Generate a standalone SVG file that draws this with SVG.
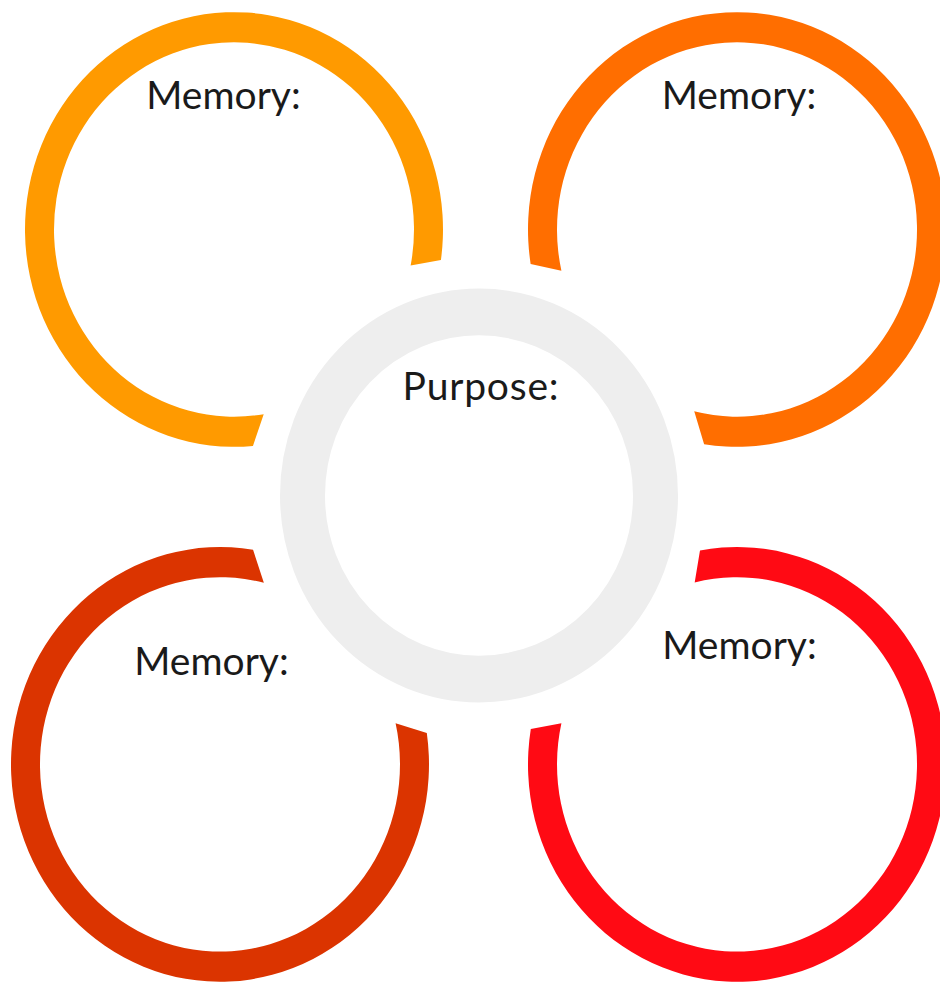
<svg xmlns="http://www.w3.org/2000/svg" width="940" height="982" viewBox="0 0 940 982">
<style>
.lbl{font-family:Lato,"Noto Sans","Liberation Sans",sans-serif;font-size:39px;fill:#1a1a1a;text-anchor:middle}
.hub{fill:none;stroke:#eeeeee;stroke-width:45}
</style>
<rect width="940" height="982" fill="#ffffff"/>
<g id="purpose">
<circle class="hub" cx="0" cy="0" r="176.5" transform="translate(479,495.5) scale(1,1.04)"/>
<text class="lbl" x="481" y="400" letter-spacing="0.8">Purpose:</text>
</g>
<g id="memory-top-left">
<path fill="#ff9a00" transform="translate(234,229.5) scale(1,1.04)" d="M206.93,29.30 A209,209 0 1 0 18.94,208.14 L29.70,177.54 A180,180 0 1 1 176.63,34.65 Z"/>
<text class="lbl" x="223.5" y="109">Memory:</text>
</g>
<g id="memory-top-right">
<path fill="#ff6e00" transform="translate(737,229.5) scale(1,1.04)" d="M-206.37,33.06 A209,209 0 1 1 -32.88,206.40 L-42.78,174.84 A180,180 0 1 0 -175.59,39.57 Z"/>
<text class="lbl" x="739" y="109">Memory:</text>
</g>
<g id="memory-bottom-left">
<path fill="#db3400" transform="translate(220,764.4) scale(1,1.04)" d="M33.06,-206.37 A209,209 0 1 0 206.81,-30.17 L175.59,-39.57 A180,180 0 1 1 43.85,-174.58 Z"/>
<text class="lbl" x="211.5" y="675">Memory:</text>
</g>
<g id="memory-bottom-right">
<path fill="#ff0a14" transform="translate(737,764.4) scale(1,1.04)" d="M-37.01,-205.70 A209,209 0 1 1 -206.20,-34.13 L-175.59,-39.57 A180,180 0 1 0 -42.32,-174.96 Z"/>
<text class="lbl" x="739.5" y="659">Memory:</text>
</g>
</svg>
